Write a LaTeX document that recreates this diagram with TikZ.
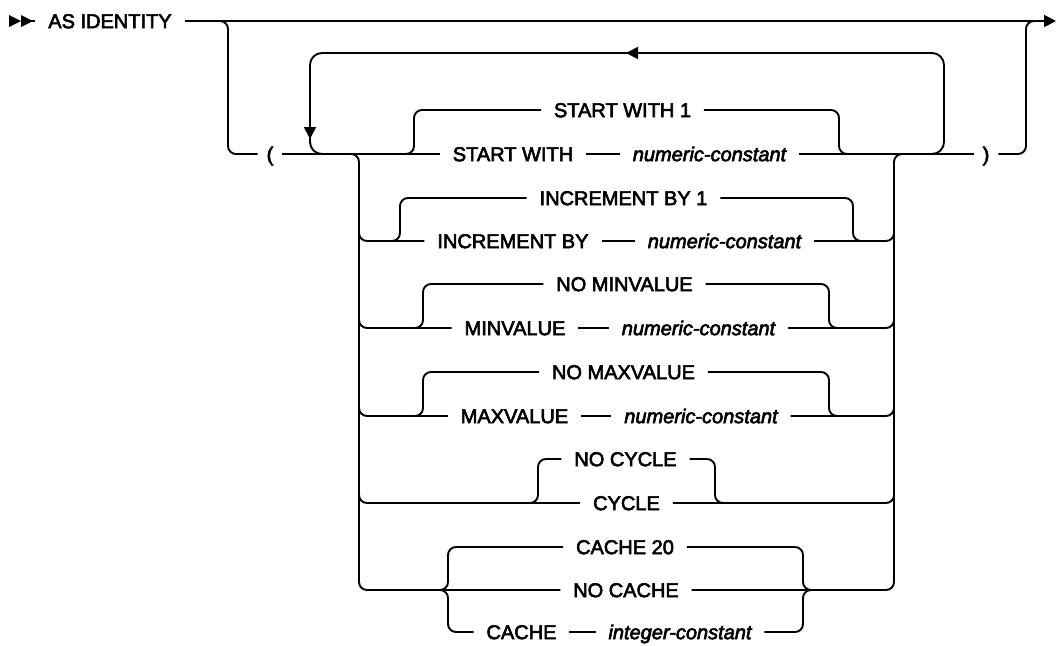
\documentclass[tikz,border=0pt]{standalone}
\usepackage{fontspec}
\setmainfont{Liberation Sans}
\newfontfamily\railfont{Liberation Sans}[FakeBold=3,ItalicFeatures={FakeBold=3}]
\usepackage{tikz}
\usetikzlibrary{arrows.meta}

\begin{document}
\begin{tikzpicture}[x=1pt,y=-1pt,line width=1.9pt,
  rail/.style={draw=black,rounded corners=8pt},
  kw/.style={inner xsep=12pt,inner ysep=0pt,text height=14.3pt,text depth=0pt,font=\railfont\fontsize{20}{24}\selectfont},
  var/.style={kw,font=\railfont\fontsize{20}{24}\selectfont\itshape},
  paren/.style={kw,inner xsep=8pt},
  headarrow/.style={-{Triangle[length=12pt,width=12pt]}}]
\useasboundingbox (0,0) rectangle (1056,645);
% ---- start marker and main line ----
\fill (9,15) -- (21,21) -- (9,27) -- cycle;
\fill (21,15) -- (33,21) -- (21,27) -- cycle;
\coordinate (mark) at (31,21);
\coordinate (end) at (1056,21);
\node[kw] (as) at (110,21) {AS IDENTITY};
\draw (mark) -- (as);
\draw[headarrow] (as) -- (end);
% ---- options in parentheses ----
\node[paren] (lp) at (270,154) {(};
\node[paren] (rp) at (986,154) {)};
\node[kw] (sw1) at (622.5,110) {START WITH 1};
\node[kw] (swk) at (513,154) {START WITH};
\node[var] (swv) at (709.5,154) {numeric-constant};
\node[kw] (ib1) at (623.5,198) {INCREMENT BY 1};
\node[kw] (ibk) at (513,241) {INCREMENT BY};
\node[var] (ibv) at (724.5,241) {numeric-constant};
\node[kw] (nmin) at (624.5,284) {NO MINVALUE};
\node[kw] (mink) at (515,328) {MINVALUE};
\node[var] (minv) at (698.5,328) {numeric-constant};
\node[kw] (nmax) at (623.5,372) {NO MAXVALUE};
\node[kw] (maxk) at (514.5,416) {MAXVALUE};
\node[var] (maxv) at (701,416) {numeric-constant};
\node[kw] (ncyc) at (625.5,459) {NO CYCLE};
\node[kw] (cyc) at (626.5,503) {CYCLE};
\node[kw] (c20) at (625,547) {CACHE 20};
\node[kw] (ncache) at (626,590) {NO CACHE};
\node[kw] (cachek) at (521.5,632) {CACHE};
\node[var] (cachev) at (680,632) {integer-constant};
\draw[rail] (210,21) -| (228,154) -- (lp);
\draw[rail] (rp.east) -| (1026,21) -- (1040,21);
\draw (lp) -- (swk);
\draw (swv) -- (rp);
% repeat loop
\coordinate (back) at (920,154);
\coordinate (fwd) at (330,154);
\draw[rail,rounded corners=12pt] (back) -| (944,53) -| (310,154) -- (fwd);
\draw[headarrow] (650,53) -- (626,53);
\draw[headarrow] (310,110) -- (310,139);
% outer rails of the option stack
\draw[rail] (347,154) -| (359,590) -- (ncache);
\draw[rail] (ncache.east) -| (894,154) -- (906,154);
\foreach \k/\v/\y in {ibk/ibv/241,mink/minv/328,maxk/maxv/416,cyc/cyc/503}{
  \draw[rail] (359,\y-20) |- (\k.west);
  \draw[rail] (\v.east) -| (894,\y-20);
}
\foreach \k/\v in {swk/swv,ibk/ibv,mink/minv,maxk/maxv,cachek/cachev}
  \draw (\k) -- (\v);
% defaults drawn above the line
\foreach \up/\xl/\xr/\y in {sw1/414/839/154,ib1/400/853/241,nmin/423/829/328,nmax/423/829/416,ncyc/538/715/503,c20/448/803/590}{
  \draw[rail] (\xl-12,\y) -- (\xl,\y) |- (\up.west);
  \draw[rail] (\up.east) -| (\xr,\y) -- (\xr+12,\y);
}
\draw[rail] (436,590) -- (448,590) |- (cachek.west);
\draw[rail] (cachev.east) -| (803,590) -- (815,590);
\end{tikzpicture}
\end{document}
